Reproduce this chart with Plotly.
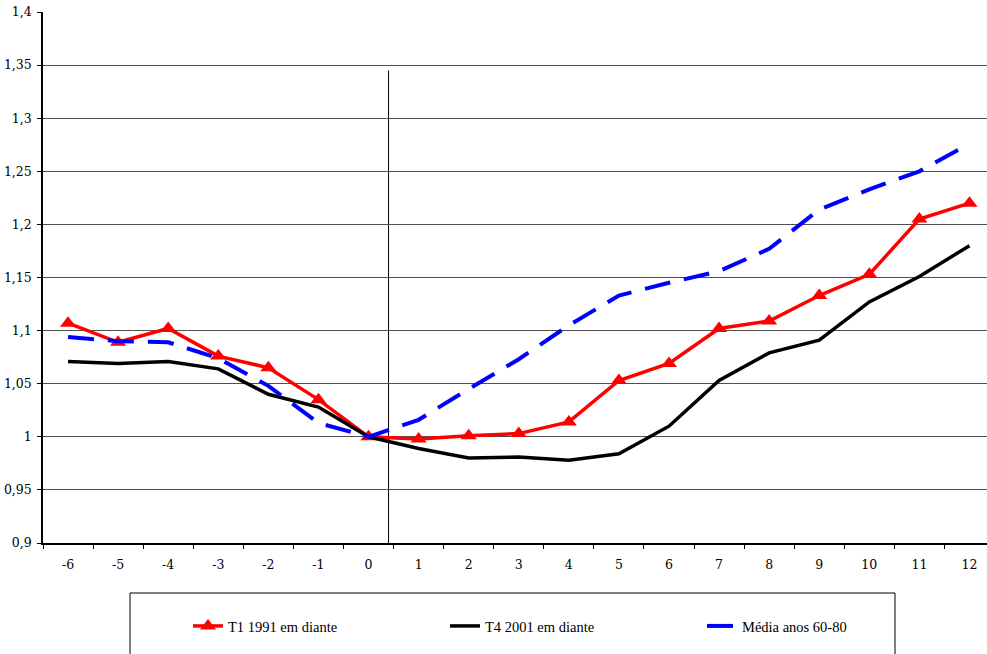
import plotly.graph_objects as go

categories = ["-6", "-5", "-4", "-3", "-2", "-1", "0", "1", "2", "3", "4", "5", "6", "7", "8", "9", "10", "11", "12"]
t1_1991 = [1.107, 1.089, 1.102, 1.076, 1.065, 1.035, 1.0, 0.998, 1.001, 1.003, 1.014, 1.053, 1.069, 1.102, 1.109, 1.133, 1.153, 1.205, 1.220]
t4_2001 = [1.071, 1.069, 1.071, 1.064, 1.040, 1.028, 1.0, 0.989, 0.980, 0.981, 0.978, 0.984, 1.010, 1.053, 1.079, 1.091, 1.127, 1.151, 1.180]
media_60_80 = [1.094, 1.090, 1.089, 1.074, 1.048, 1.013, 1.0, 1.016, 1.045, 1.073, 1.105, 1.133, 1.145, 1.156, 1.177, 1.214, 1.233, 1.250, 1.276]
y_tickvals = [0.9, 0.95, 1.0, 1.05, 1.1, 1.15, 1.2, 1.25, 1.3, 1.35, 1.4]
y_ticktext = ["0,9", "0,95", "1", "1,05", "1,1", "1,15", "1,2", "1,25", "1,3", "1,35", "1,4"]
names = ["T1 1991 em diante", "T4 2001 em diante", "Média anos 60-80"]

W, H = 987, 654
L, T, B = 43, 12, 111
plot_w = W - L
plot_h = H - T - B

def px_x(p):  # screen px -> paper
    return (p - L) / plot_w

def px_y(p):
    return (H - B - p) / plot_h

SERIF = "DejaVu Serif"
LEGFONT = "Liberation Serif"

fig = go.Figure()
fig.add_trace(go.Scatter(x=categories, y=t1_1991, name=names[0], mode="lines+markers",
                         line=dict(color="#ff0000", width=3.5), legend="legend",
                         marker=dict(symbol="triangle-up", size=14, color="#ff0000")))
fig.add_trace(go.Scatter(x=categories, y=t4_2001, name=names[1], mode="lines",
                         line=dict(color="#000000", width=3.5), legend="legend2"))
fig.add_trace(go.Scatter(x=categories, y=media_60_80, name=names[2], mode="lines",
                         line=dict(color="#0000ff", width=4, dash="26px,14px"), legend="legend3"))

# vertical reference line
fig.add_shape(type="line", xref="x", yref="y", x0=6.4, x1=6.4, y0=0.9, y1=1.345,
              line=dict(color="black", width=1), layer="below")
# legend frame
fig.add_shape(type="rect", xref="paper", yref="paper",
              x0=px_x(130), x1=px_x(895), y0=px_y(593), y1=px_y(665),
              line=dict(color="black", width=1), fillcolor="rgba(0,0,0,0)")

leg_common = dict(yanchor="middle", y=px_y(626), xanchor="left",
                  font=dict(family=LEGFONT, size=14.5, color="black"),
                  bgcolor="rgba(0,0,0,0)", borderwidth=0)

fig.update_layout(
    width=W, height=H,
    margin=dict(l=L, r=0, t=T, b=B, pad=0, autoexpand=False),
    paper_bgcolor="white", plot_bgcolor="white",
    font=dict(family=SERIF, size=12.5, color="black"),
    showlegend=True,
    legend=dict(x=px_x(188), **leg_common),
    legend2=dict(x=px_x(445), **leg_common),
    legend3=dict(x=px_x(702), **leg_common),
    xaxis=dict(type="category", range=[-0.5, 18.35], showgrid=False, zeroline=False,
               showline=True, linecolor="black", linewidth=1.5, automargin=False,
               ticks="outside", tickson="boundaries", ticklen=4, tickcolor="black",
               ticklabelstandoff=9,
               tickfont=dict(family=SERIF, size=12.5)),
    yaxis=dict(range=[0.9, 1.4], tickvals=y_tickvals, ticktext=y_ticktext,
               showgrid=True, gridcolor="#505050", gridwidth=1, zeroline=False,
               showline=True, linecolor="black", linewidth=1.5, automargin=False,
               ticks="outside", ticklen=4, tickcolor="black",
               ticklabelstandoff=3,
               tickfont=dict(family=SERIF, size=12.5)),
)

fig.write_html("out.html", config={"displayModeBar": False},
               post_script="document.body.style.margin='0';")
